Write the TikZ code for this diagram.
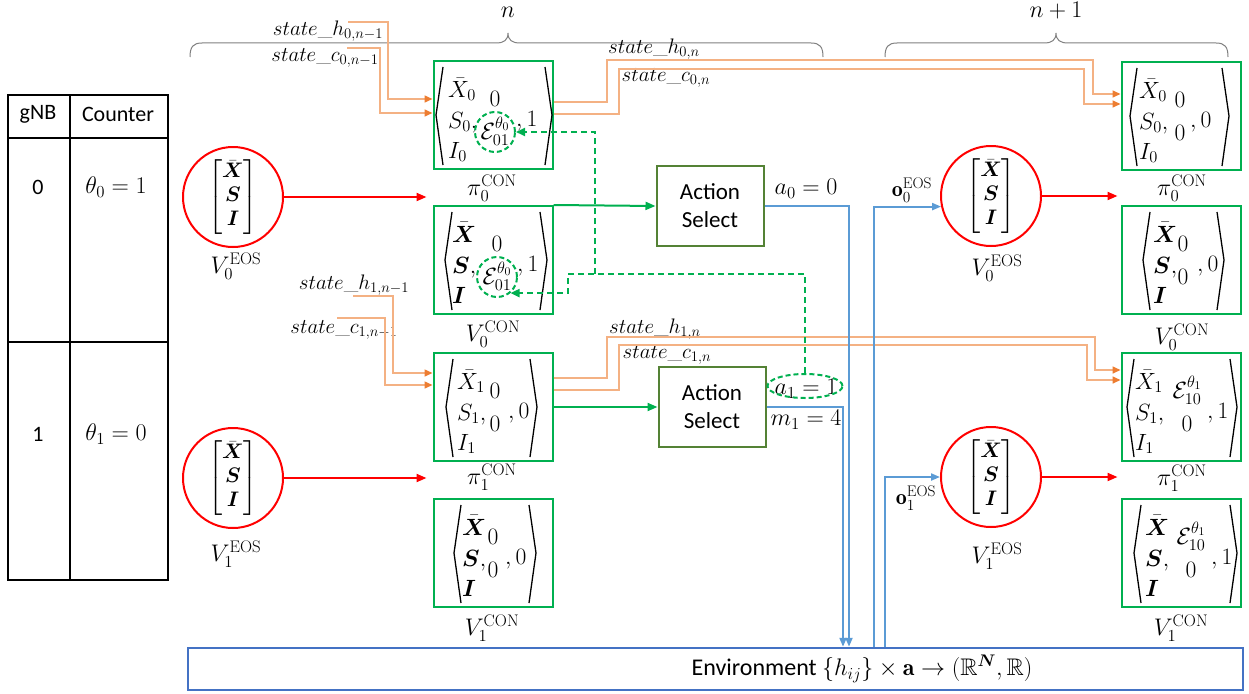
\documentclass[tikz,border=0pt]{standalone}
\usepackage{fix-cm}
\usepackage{amsmath,amssymb}
\usepackage{fontspec}
\newfontfamily\carl{Carlito}
\usetikzlibrary{arrows.meta,shapes.geometric}
\definecolor{gbox}{HTML}{00B050}
\definecolor{abox}{HTML}{548235}
\definecolor{bline}{HTML}{5B9BD5}
\definecolor{ebox}{HTML}{4472C4}
\definecolor{orl}{HTML}{F4B183}
\definecolor{ora}{HTML}{ED7D31}
\definecolor{brc}{HTML}{808080}
\tikzset{
  conframe/.style={draw=gbox,line width=2pt,minimum width=119pt,minimum height=108pt,inner sep=0pt},
  brk/.style={draw=black,line width=1.3pt},
  cont/.style={font=\fontsize{23.5}{28}\selectfont,inner sep=0pt},
  circnode/.style={circle,draw=red,line width=2pt,minimum size=100pt,inner sep=0pt,font=\fontsize{21}{24}\selectfont},
  actbox/.style={draw=abox,line width=2pt,minimum width=107pt,minimum height=80pt,align=center,font=\carl\fontsize{23}{28}\selectfont},
  lbl/.style={font=\fontsize{24}{27}\selectfont,inner sep=0pt},
  mlb/.style={font=\fontsize{24}{27}\selectfont,inner sep=0pt},
  stl/.style={font=\fontsize{21}{24}\selectfont,inner sep=0pt},
  txt/.style={font=\carl\fontsize{22}{26}\selectfont,inner sep=0pt},
  orln/.style={draw=orl,line width=1.5pt,-{Triangle[length=8pt,width=7pt,color=ora]}},
  redarr/.style={draw=red,line width=2pt,-{Triangle[length=10pt,width=8pt]}},
  grnarr/.style={draw=gbox,line width=2pt,-{Triangle[length=10pt,width=8pt]}},
  bluarr/.style={draw=bline,line width=2pt,-{Triangle[length=9pt,width=7pt]}},
  gdash/.style={draw=gbox,line width=2pt,dash pattern=on 6pt off 4pt,-{Triangle[length=9pt,width=8pt]}},
  gring/.style={draw=gbox,line width=2pt,dash pattern=on 5pt off 3pt,circle,minimum size=40pt,inner sep=0pt},
  gell/.style={draw=gbox,line width=2pt,dash pattern=on 5pt off 3pt,ellipse,minimum width=75pt,minimum height=24pt,inner sep=0pt},
  tbl/.style={draw=black,line width=1.5pt},
  bracepath/.style={draw=brc,line width=1pt},
  envbox/.style={draw=ebox,line width=2.5pt,minimum width=1055pt,minimum height=42pt,inner sep=0pt},
}
% offsets: \cxa col1 left, \cmx middle column, \clx last item, \bla left tip, \bra right tip
\newcommand\conbox[9]{%
  \node[conframe] (#1) at (#2,#3) {};
  \draw[brk] ({#2+\bla+7},{#3-48}) -- ({#2+\bla},{#3}) -- ({#2+\bla+7},{#3+50});
  \draw[brk] ({#2+\bra-7},{#3-48}) -- ({#2+\bra},{#3}) -- ({#2+\bra-7},{#3+50});
  \node[cont,anchor=base west] (#1r1) at ({#2+\cxa},{#3-18}) {$#4$};
  \node[cont,anchor=base west] (#1r2) at ({#2+\cxa},{#3+13}) {$#5$};
  \node[cont,anchor=base west] (#1r3) at ({#2+\cxa},{#3+43}) {$#6$};
  \node[cont,anchor=base] (#1m1) at ({#2+\cmx},{#3-9}) {$#7$};
  \node[cont,anchor=base] (#1m2) at ({#2+\cmx},{#3+24}) {$#8$};
  \node[cont,anchor=base west] (#1l) at ({#2+\clx},{#3+11}) {$#9$};
}
\newcommand\xsimat{$\begin{bmatrix}\bar{\boldsymbol X}\\ \boldsymbol S\\ \boldsymbol I\end{bmatrix}$}
\begin{document}
\begin{tikzpicture}[x=1pt,y=-1pt]
\useasboundingbox (0,0) rectangle (1249,693);

% ---------- table ----------
\draw[tbl] (8,95) rectangle (168,580);
\draw[tbl] (70,95) -- (70,580);
\draw[tbl] (8,138) -- (168,138);
\draw[tbl] (8,342) -- (168,342);
\node[txt] (tg) at (38,114) {gNB};
\node[txt] (tc) at (118,114) {Counter};
\node[txt] (t0) at (38,187) {0};
\node[mlb] (tth0) at (116,187) {$\theta_0 = 1$};
\node[txt] (t1) at (38,434) {1};
\node[mlb] (tth1) at (116,434) {$\theta_1 = 0$};

% ---------- braces ----------
\draw[bracepath] (190,57) .. controls (190,47) and (193,43) .. (202,43) -- (496,43)
  .. controls (504,43) and (508,40) .. (508,33) .. controls (508,40) and (512,43) .. (520,43)
  -- (811,43) .. controls (820,43) and (823,47) .. (823,57);
\draw[bracepath] (885,57) .. controls (885,47) and (888,43) .. (897,43) -- (1044,43)
  .. controls (1052,43) and (1056,40) .. (1056,33) .. controls (1056,40) and (1060,43) .. (1068,43)
  -- (1216,43) .. controls (1225,43) and (1228,47) .. (1228,57);
\node[mlb] (nlab) at (508,12) {$n$};
\node[mlb] (n1lab) at (1056,11) {$n+1$};

% ---------- circles ----------
\node[circnode] (c0l) at (233,197) {\xsimat};
\node[circnode] (c1l) at (233,478) {\xsimat};
\node[circnode] (c0r) at (991,196) {\xsimat};
\node[circnode] (c1r) at (991,477) {\xsimat};
\node[lbl] (lc0l) at (236,266) {$V_0^{\mathrm{EOS}}$};
\node[lbl] (lc1l) at (236,554) {$V_1^{\mathrm{EOS}}$};
\node[lbl] (lc0r) at (997,268) {$V_0^{\mathrm{EOS}}$};
\node[lbl] (lc1r) at (997,556) {$V_1^{\mathrm{EOS}}$};

% ---------- CON boxes, column n ----------
\def\cxa{-45}\def\cmx{2}\def\clx{23}\def\bla{-57}\def\bra{59}
\conbox{p0l}{493}{115}{\bar{X}_0}{S_0,}{I_0}{0}{\mathcal{E}_{01}^{\theta_0}}{,1}
\def\cxa{-41}\def\cmx{4}\def\clx{24}\def\bla{-48}\def\bra{54}
\conbox{v0l}{493}{260}{\bar{\boldsymbol X}}{\boldsymbol S,}{\boldsymbol I}{0}{\mathcal{E}_{01}^{\theta_0}}{,1}
\def\cxa{-36}\def\cmx{2}\def\clx{15}\def\bla{-47}\def\bra{44}
\conbox{p1l}{493}{407}{\bar{X}_1}{S_1,}{I_1}{0}{0}{,0}
\def\cxa{-31}\def\cmx{0}\def\clx{12}\def\bla{-39}\def\bra{43}
\conbox{v1l}{493}{553}{\bar{\boldsymbol X}}{\boldsymbol S,}{\boldsymbol I}{0}{0}{,0}
% ---------- CON boxes, column n+1 ----------
\def\cxa{-42}\def\cmx{-1}\def\clx{9}\def\bla{-51}\def\bra{48}
\conbox{p0r}{1181}{116}{\bar{X}_0}{S_0,}{I_0}{0}{0}{,0}
\def\cxa{-28}\def\cmx{2}\def\clx{16}\def\bla{-38}\def\bra{43}
\conbox{v0r}{1181}{260}{\bar{\boldsymbol X}}{\boldsymbol S,}{\boldsymbol I}{0}{0}{,0}
\def\cxa{-46}\def\cmx{6}\def\clx{26}\def\bla{-54}\def\bra{56}
\conbox{p1r}{1181}{407}{\bar{X}_1}{S_1,}{I_1}{\mathcal{E}_{10}^{\theta_1}}{0}{,1}
\def\cxa{-36}\def\cmx{10}\def\clx{30}\def\bla{-47}\def\bra{56}
\conbox{v1r}{1181}{553}{\bar{\boldsymbol X}}{\boldsymbol S,}{\boldsymbol I}{\mathcal{E}_{10}^{\theta_1}}{0}{,1}

\node[lbl] (lp0l) at (492,188) {$\pi_0^{\mathrm{CON}}$};
\node[lbl] (lv0l) at (493,334) {$V_0^{\mathrm{CON}}$};
\node[lbl] (lp1l) at (492,477) {$\pi_1^{\mathrm{CON}}$};
\node[lbl] (lv1l) at (492,628) {$V_1^{\mathrm{CON}}$};
\node[lbl] (lp0r) at (1182,188) {$\pi_0^{\mathrm{CON}}$};
\node[lbl] (lv0r) at (1182,337) {$V_0^{\mathrm{CON}}$};
\node[lbl] (lp1r) at (1182,478) {$\pi_1^{\mathrm{CON}}$};
\node[lbl] (lv1r) at (1181,628) {$V_1^{\mathrm{CON}}$};

% dashed rings
\node[gring] (e1) at (495,132) {};
\node[gring] (e2) at (497,277) {};

% ---------- action select ----------
\node[actbox] (act1) at (710,206) {Action\\Select};
\node[actbox] (act2) at (712,407) {Action\\Select};
\node[mlb] (a0lab) at (806,189) {$a_0 = 0$};
\node[mlb] (a1lab) at (806,389) {$a_1 = 1$};
\node[gell] (a1e) at (805,386) {};
\node[mlb] (m1lab) at (806,420) {$m_1 = 4$};

% ---------- environment ----------
\node[envbox] (env) at (715.5,669) {};
\node[txt,font=\carl\fontsize{24}{28}\selectfont] (envt) at (862,669) {Environment $\{h_{ij}\}\times\mathbf{a}\rightarrow(\mathbb{R}^{\boldsymbol N},\mathbb{R})$};

% ---------- state labels ----------
\node[stl] (sh0p) at (328,31) {$state\_h_{0,n-1}$};
\node[stl] (sc0p) at (325,58) {$state\_c_{0,n-1}$};
\node[stl] (sh0n) at (654,49) {$state\_h_{0,n}$};
\node[stl] (sc0n) at (666,78) {$state\_c_{0,n}$};
\node[stl] (sh1p) at (354,285) {$state\_h_{1,n-1}$};
\node[stl] (sc1p) at (344,330) {$state\_c_{1,n-1}$};
\node[stl] (sh1n) at (655,329) {$state\_h_{1,n}$};
\node[stl] (sc1n) at (667,355) {$state\_c_{1,n}$};

% ---------- orange state lines ----------
\coordinate (h0s) at (348,22);
\coordinate (c0s) at (347,48);
\coordinate (h1s) at (353,296);
\coordinate (c1s) at (337,318);
\draw[orln] (h0s) -- (388,22) -- (388,99) -- (p0l.west |- 0,99);
\draw[orln] (c0s) -- (380,48) -- (380,113) -- (p0l.west |- 0,113);
\draw[orln] (p0l.east |- 0,102) -- (607,102) -- (607,60) -- (1093,60) -- (1093,94) -- (p0r.west |- 0,94);
\draw[orln] (p0l.east |- 0,114) -- (619,114) -- (619,69) -- (1084,69) -- (1084,104) -- (p0r.west |- 0,104);
\draw[orln] (h1s) -- (393,296) -- (393,373) -- (p1l.west |- 0,373);
\draw[orln] (c1s) -- (385,318) -- (385,385) -- (p1l.west |- 0,385);
\draw[orln] (p1l.east |- 0,378) -- (607,378) -- (607,337) -- (1095,337) -- (1095,370) -- (p1r.west |- 0,370);
\draw[orln] (p1l.east |- 0,390) -- (619,390) -- (619,345) -- (1087,345) -- (1087,380) -- (p1r.west |- 0,380);

% ---------- red arrows ----------
\draw[redarr,shorten >=6pt] (c0l.east) -- (c0l.east -| p0l.west);
\draw[redarr,shorten >=6pt] (c1l.east) -- (c1l.east -| p1l.west);
\draw[redarr,shorten >=3pt] (c0r.east) -- (c0r.east -| p0r.west);
\draw[redarr,shorten >=3pt] (c1r.east) -- (c1r.east -| p1r.west);

% ---------- green arrows ----------
\draw[grnarr] (v0l.north east) -- (act1.west);
\draw[grnarr] (p1l.east) -- (act2.west);

% ---------- blue lines ----------
\coordinate (d0) at (849,0);
\coordinate (d1) at (843,0);
\coordinate (u0) at (874,0);
\coordinate (u1) at (885,0);
\draw[bluarr] (act1.east) -| (env.north -| d0);
\draw[bluarr] (act2.east) -| (env.north -| d1);
\draw[bluarr] (env.north -| u0) |- (c0r.192);
\draw[bluarr] (env.north -| u1) |- (c1r.west);
\node[lbl,font=\fontsize{22}{25}\selectfont] (o0lab) at (912,190) {$\mathbf{o}_0^{\mathrm{EOS}}$};
\node[lbl,font=\fontsize{22}{25}\selectfont] (o1lab) at (916,498) {$\mathbf{o}_1^{\mathrm{EOS}}$};

% ---------- green dashed feedback ----------
\coordinate (jn) at (595,274);
\coordinate (jw) at (568,274);
\draw[gdash] (a1e.north) |- (jw) |- (e2.-50);
\draw[gdash] (jn) |- (e1.east);
\end{tikzpicture}
\end{document}
